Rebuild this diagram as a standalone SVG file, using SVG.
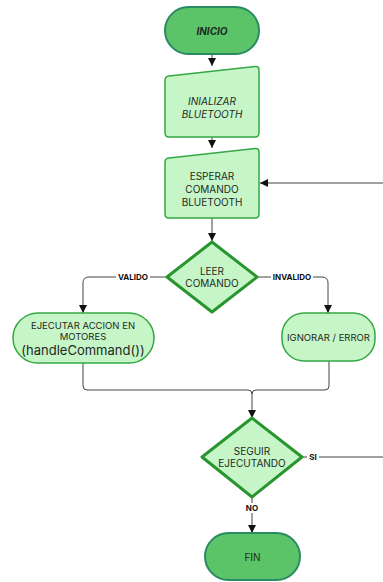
<svg xmlns="http://www.w3.org/2000/svg" width="383" height="582" viewBox="0 0 383 582">
<style>
.term{fill:#5cc468;stroke:#2a8a62;stroke-width:2}
.box{fill:#c6f5c8;stroke:#34a844;stroke-width:1.5}
.dia{fill:#c6f5c8;stroke:#28952e;stroke-width:3;stroke-linejoin:round}
.t{font-family:Inter,Roboto,"Liberation Sans",sans-serif;font-size:10px;fill:#1e2a22;text-anchor:middle;dominant-baseline:central}
.s{font-size:9.5px}
.big{font-size:13px}
.lbl{font-family:Inter,Roboto,"Liberation Sans",sans-serif;font-size:8px;font-weight:bold;fill:#111;text-anchor:middle;dominant-baseline:central}
.c{fill:none;stroke:#444;stroke-width:1}
</style>
<defs>
<marker id="ah" markerWidth="8" markerHeight="9" refX="8" refY="4.5" orient="auto" markerUnits="userSpaceOnUse">
<path d="M0,0.5 L8,4.5 L0,8.5 Z" fill="#111"/>
</marker>
</defs>
<rect width="383" height="582" fill="#fff"/>
<g id="connectors">
<path class="c" d="M212,54 V66" marker-end="url(#ah)"/>
<path class="c" d="M212,137 V148" marker-end="url(#ah)"/>
<path class="c" d="M383,183 H260" marker-end="url(#ah)"/>
<path class="c" d="M212,218 V241" marker-end="url(#ah)"/>
<path class="c" d="M166,277 H89 Q83,277 83,283 V313" marker-end="url(#ah)"/>
<rect x="116" y="272" width="34" height="10" fill="#fff"/>
<text class="lbl" x="133" y="277">VALIDO</text>
<path class="c" d="M258,277 H322 Q328,277 328,283 V313" marker-end="url(#ah)"/>
<rect x="271" y="272" width="42" height="10" fill="#fff"/>
<text class="lbl" x="292" y="277">INVALIDO</text>
<path class="c" d="M83,363 V386 Q83,390 87,390 H248 Q252,390 252,394 V418" marker-end="url(#ah)"/>
<path class="c" d="M329,361 V386 Q329,390 325,390 H256 Q252,390 252,394"/>
<path class="c" d="M303,457 H383"/>
<rect x="307" y="452" width="12" height="10" fill="#fff"/>
<text class="lbl" x="313" y="457">SI</text>
<path class="c" d="M252,498 V533" marker-end="url(#ah)"/>
<rect x="244" y="503" width="16" height="10" fill="#fff"/>
<text class="lbl" x="252" y="508">NO</text>
</g>
<g id="inicio">
<rect class="term" x="165" y="7" width="94" height="47" rx="23.5"/>
<text class="t" x="212" y="31" font-weight="bold" font-style="italic">INICIO</text>
</g>
<g id="inicializar">
<path class="box" d="M169,76 L255,66.5 Q259,66 259,70 V133 Q259,137 255,137 H169 Q165,137 165,133 V80 Q165,76.5 169,76 Z"/>
<text class="t" x="212" y="101" font-style="italic">INIALIZAR</text>
<text class="t" x="212" y="114" font-style="italic">BLUETOOTH</text>
</g>
<g id="esperar">
<path class="box" d="M169,158 L255,148.5 Q259,148 259,152 V214 Q259,218 255,218 H169 Q165,218 165,214 V162 Q165,158.5 169,158 Z"/>
<text class="t" x="212" y="176">ESPERAR</text>
<text class="t" x="212" y="189">COMANDO</text>
<text class="t" x="212" y="202">BLUETOOTH</text>
</g>
<g id="leer">
<path class="dia" d="M212,242 L257,277 L212,312 L167,277 Z"/>
<text class="t" x="212" y="271">LEER</text>
<text class="t" x="212" y="283">COMANDO</text>
</g>
<g id="ejecutar">
<rect class="box" x="13" y="313" width="141" height="50" rx="25"/>
<text class="t s" x="83" y="325">EJECUTAR ACCION EN</text>
<text class="t s" x="83" y="336">MOTORES</text>
<text class="t big" x="83" y="350">(handleCommand())</text>
</g>
<g id="ignorar">
<rect class="box" x="282" y="313" width="93" height="48" rx="22"/>
<text class="t s" x="328.5" y="337">IGNORAR / ERROR</text>
</g>
<g id="seguir">
<path class="dia" d="M252,418 L302,457 L252,497 L202,457 Z"/>
<text class="t" x="252" y="451">SEGUIR</text>
<text class="t" x="252" y="463">EJECUTANDO</text>
</g>
<g id="fin">
<rect class="term" x="205" y="533" width="95" height="47" rx="23.5"/>
<text class="t" x="252.5" y="557">FIN</text>
</g>
</svg>
